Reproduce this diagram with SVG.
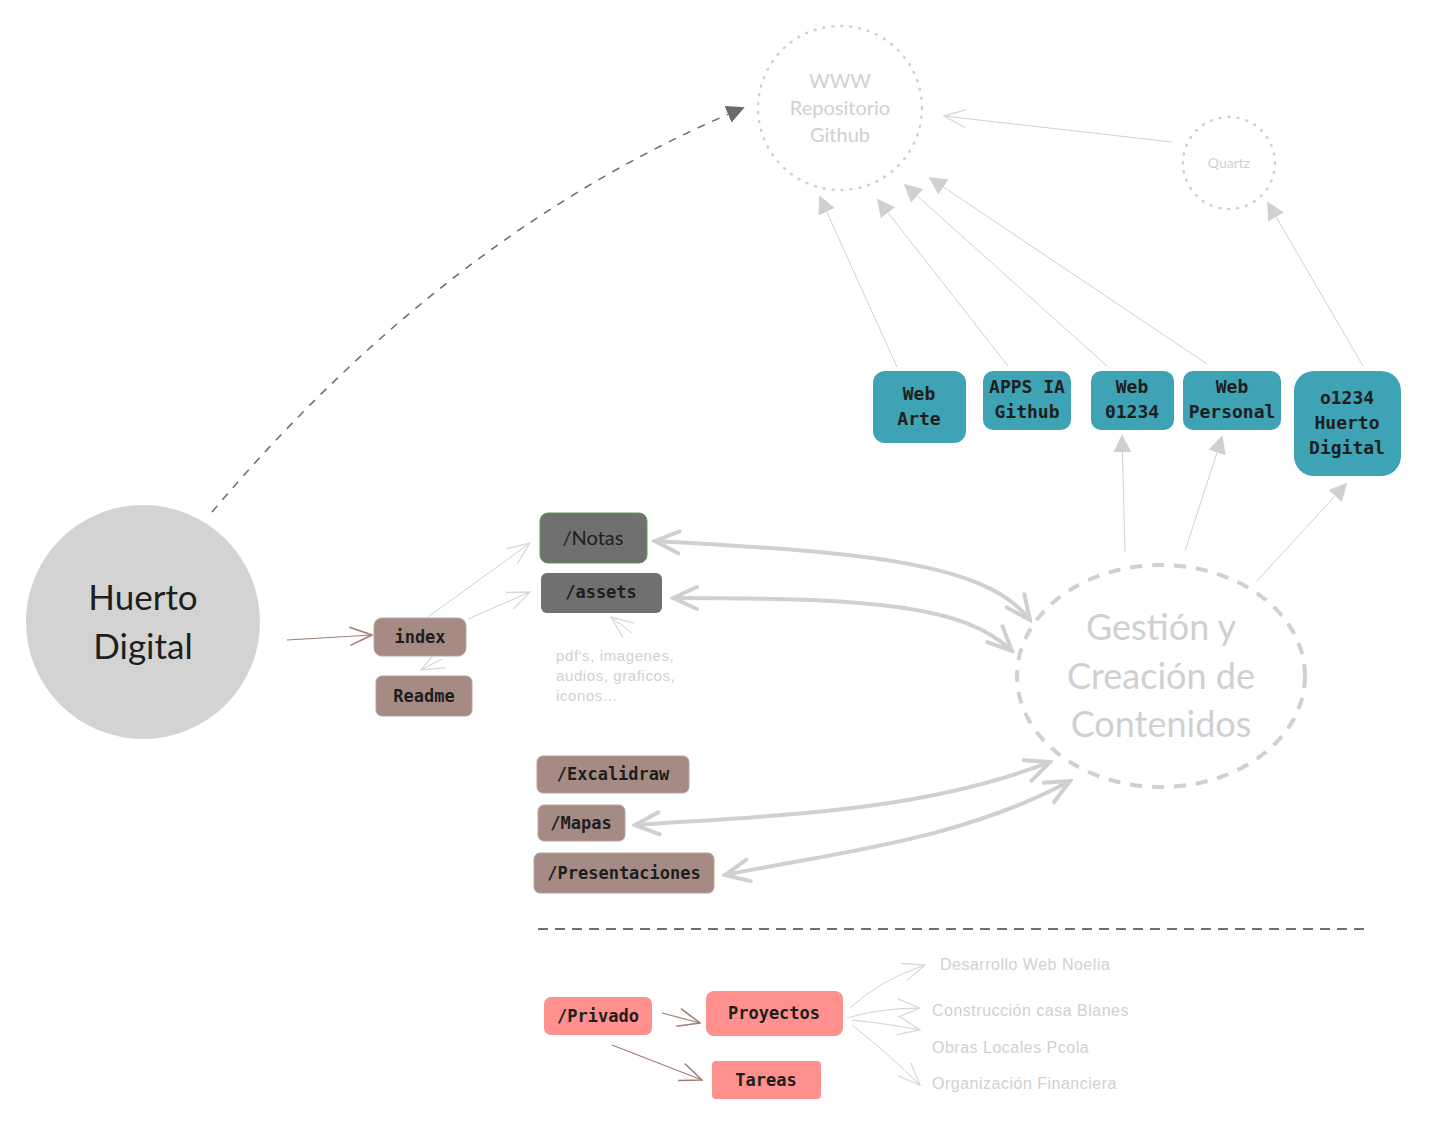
<svg xmlns="http://www.w3.org/2000/svg" width="1429" height="1127" viewBox="0 0 1429 1127">
<style>
.mono{font-family:"DejaVu Sans Mono","Liberation Mono",monospace;font-weight:bold;fill:#1e1e1e;text-anchor:middle}
.sans{font-family:"Lato","Open Sans",sans-serif;text-anchor:middle}
.hand{font-family:"Liberation Sans","DejaVu Sans",sans-serif;fill:#d0d0d0}
.teal{fill:#3ea3b5}
.brown{fill:#a58b83;stroke:#b9a39c;stroke-width:1}
.pink{fill:#ff908d}
.thin{fill:none;stroke:#d0d0d0;stroke-width:1}
.thick{fill:none;stroke:#d0d0d0;stroke-width:4;stroke-linecap:round}
.bro{fill:none;stroke:#a07d76;stroke-width:1.2}
</style>
<defs>
<marker id="fillgray" viewBox="0 0 10 10" refX="9" refY="5" markerWidth="18" markerHeight="18" markerUnits="userSpaceOnUse" orient="auto">
<path d="M0,0 L10,5 L0,10 z" fill="#d0d0d0"/></marker>
<marker id="filldark" viewBox="0 0 10 10" refX="9" refY="5" markerWidth="18" markerHeight="18" markerUnits="userSpaceOnUse" orient="auto">
<path d="M0,0 L10,5 L0,10 z" fill="#6a6a6a"/></marker>
<marker id="openthin" viewBox="0 0 20 20" refX="19" refY="10" markerWidth="26" markerHeight="26" markerUnits="userSpaceOnUse" orient="auto">
<path d="M2,3 L19,10 L2,17" fill="none" stroke="#d8d8d8" stroke-width="1"/></marker>
<marker id="openbrown" viewBox="0 0 20 20" refX="19" refY="10" markerWidth="26" markerHeight="26" markerUnits="userSpaceOnUse" orient="auto">
<path d="M2,3 L19,10 L2,17" fill="none" stroke="#a07d76" stroke-width="1.2"/></marker>
<marker id="openthick" viewBox="0 0 30 30" refX="27" refY="15" markerWidth="30" markerHeight="30" markerUnits="userSpaceOnUse" orient="auto">
<path d="M3,4 L27,15 L3,26" fill="none" stroke="#d0d0d0" stroke-width="4" stroke-linecap="round"/></marker>
<marker id="openthickstart" viewBox="0 0 30 30" refX="3" refY="15" markerWidth="30" markerHeight="30" markerUnits="userSpaceOnUse" orient="auto">
<path d="M27,4 L3,15 L27,26" fill="none" stroke="#d0d0d0" stroke-width="4" stroke-linecap="round"/></marker>
</defs>

<g id="connectors">
<path d="M212,512 Q450,230 743,108" fill="none" stroke="#6a6a6a" stroke-width="1.5" stroke-dasharray="8 8" marker-end="url(#filldark)"/>
<path class="thin" d="M1172,142 L944,116" marker-end="url(#openthin)"/>
<path class="thin" d="M897,367 L820,197" marker-end="url(#fillgray)"/>
<path class="thin" d="M1008,366 L878,200" marker-end="url(#fillgray)"/>
<path class="thin" d="M1107,366 L905,185" marker-end="url(#fillgray)"/>
<path class="thin" d="M1207,364 L930,178" marker-end="url(#fillgray)"/>
<path class="thin" d="M1363,366 L1268,203" marker-end="url(#fillgray)"/>
<path class="thin" d="M1125,552 L1122,436" marker-end="url(#fillgray)"/>
<path class="thin" d="M1185,551 L1222,437" marker-end="url(#fillgray)"/>
<path class="thin" d="M1257,581 L1346,484" marker-end="url(#fillgray)"/>
<path class="thick" d="M655,541 C850,552 985,560 1030,620" marker-start="url(#openthickstart)" marker-end="url(#openthick)"/>
<path class="thick" d="M673,598 C870,598 965,605 1012,651" marker-start="url(#openthickstart)" marker-end="url(#openthick)"/>
<path class="thick" d="M635,825 C780,815 920,812 1050,762" marker-start="url(#openthickstart)" marker-end="url(#openthick)"/>
<path class="thick" d="M725,875 C840,852 960,840 1070,781" marker-start="url(#openthickstart)" marker-end="url(#openthick)"/>
<path class="bro" d="M287,640 L372,635" marker-end="url(#openbrown)"/>
<path class="thin" d="M428,617 L530,543" marker-end="url(#openthin)" stroke="#e2e2e2"/>
<path class="thin" d="M468,619 L530,592" marker-end="url(#openthin)" stroke="#e2e2e2"/>
<path class="thin" d="M442,659 L421,670" marker-end="url(#openthin)" stroke="#e2e2e2"/>
<path class="thin" d="M632,633 L611,617" marker-end="url(#openthin)" stroke="#e2e2e2"/>
<path class="bro" d="M662,1013 L700,1023" marker-end="url(#openbrown)"/>
<path class="bro" d="M612,1045 L702,1080" marker-end="url(#openbrown)"/>
<path class="thin" d="M850,1008 Q880,980 925,965" marker-end="url(#openthin)" stroke="#e2e2e2"/>
<path class="thin" d="M847,1018 Q880,1008 920,1008" marker-end="url(#openthin)" stroke="#e2e2e2"/>
<path class="thin" d="M852,1020 Q890,1024 920,1030" marker-end="url(#openthin)" stroke="#e2e2e2"/>
<path class="thin" d="M852,1025 Q890,1055 920,1085" marker-end="url(#openthin)" stroke="#e2e2e2"/>
<line x1="538" y1="929" x2="1365" y2="929" stroke="#707070" stroke-width="2" stroke-dasharray="10 7"/>
</g>

<g id="huerto">
<circle cx="143" cy="622" r="117" fill="#d3d3d3"/>
<text class="sans" x="143" y="610" font-size="35" fill="#1e1e1e">Huerto</text>
<text class="sans" x="143" y="659" font-size="35" fill="#1e1e1e">Digital</text>
</g>

<g id="www">
<circle cx="840" cy="108" r="82" fill="none" stroke="#d0d0d0" stroke-width="2.5" stroke-dasharray="1 8" stroke-linecap="round"/>
<text class="sans" x="840" y="88" font-size="20" fill="#d0d0d0">WWW</text>
<text class="sans" x="840" y="115" font-size="20" fill="#d0d0d0">Repositorio</text>
<text class="sans" x="840" y="142" font-size="20" fill="#d0d0d0">Github</text>
</g>

<g id="quartz">
<circle cx="1229" cy="163" r="46" fill="none" stroke="#d0d0d0" stroke-width="2.5" stroke-dasharray="1 8" stroke-linecap="round"/>
<text class="sans" x="1229" y="168" font-size="14" fill="#d0d0d0">Quartz</text>
</g>

<g id="webarte"><rect class="teal" x="873" y="371" width="93" height="72" rx="12"/>
<text class="mono" x="919" y="400" font-size="18">Web</text><text class="mono" x="919" y="425" font-size="18">Arte</text></g>
<g id="appsia"><rect class="teal" x="983" y="371" width="88" height="59" rx="10"/>
<text class="mono" x="1027" y="393" font-size="18">APPS IA</text><text class="mono" x="1027" y="418" font-size="18">Github</text></g>
<g id="web01234"><rect class="teal" x="1091" y="371" width="83" height="59" rx="10"/>
<text class="mono" x="1132" y="393" font-size="18">Web</text><text class="mono" x="1132" y="418" font-size="18">01234</text></g>
<g id="webpersonal"><rect class="teal" x="1183" y="371" width="98" height="59" rx="10"/>
<text class="mono" x="1232" y="393" font-size="18">Web</text><text class="mono" x="1232" y="418" font-size="18">Personal</text></g>
<g id="o1234"><rect class="teal" x="1294" y="371" width="107" height="105" rx="20"/>
<text class="mono" x="1347" y="404" font-size="18">o1234</text><text class="mono" x="1347" y="429" font-size="18">Huerto</text><text class="mono" x="1347" y="454" font-size="18">Digital</text></g>

<g id="gestion">
<ellipse cx="1161" cy="676" rx="144" ry="111" fill="none" stroke="#d0d0d0" stroke-width="4" stroke-dasharray="12 10"/>
<text class="sans" x="1161" y="640" font-size="36" fill="#d0d0d0">Gestión y</text>
<text class="sans" x="1161" y="689" font-size="36" fill="#d0d0d0">Creación de</text>
<text class="sans" x="1161" y="737" font-size="36" fill="#d0d0d0">Contenidos</text>
</g>

<g id="notas"><rect x="540" y="513" width="107" height="50" rx="8" fill="#707070" stroke="#5a9a5a" stroke-width="1"/>
<text class="sans" x="593" y="545" font-size="20" fill="#1e1e1e">/Notas</text></g>
<g id="assets"><rect x="541" y="573" width="121" height="40" rx="6" fill="#707070"/>
<text class="mono" x="601" y="598" font-size="17">/assets</text></g>
<g id="pdf">
<text class="hand" x="556" y="661" font-size="15" letter-spacing="0.6">pdf's, imagenes,</text>
<text class="hand" x="556" y="681" font-size="15" letter-spacing="0.6">audios, graficos,</text>
<text class="hand" x="556" y="701" font-size="15" letter-spacing="0.6">iconos...</text>
</g>

<g id="index"><rect class="brown" x="374" y="618" width="92" height="38" rx="8"/>
<text class="mono" x="420" y="643" font-size="17">index</text></g>
<g id="readme"><rect class="brown" x="376" y="676" width="96" height="40" rx="6"/>
<text class="mono" x="424" y="702" font-size="17">Readme</text></g>

<g id="excalidraw"><rect class="brown" x="537" y="756" width="152" height="37" rx="6"/>
<text class="mono" x="613" y="780" font-size="17">/Excalidraw</text></g>
<g id="mapas"><rect class="brown" x="538" y="805" width="87" height="36" rx="6"/>
<text class="mono" x="581" y="829" font-size="17">/Mapas</text></g>
<g id="presentaciones"><rect class="brown" x="534" y="853" width="180" height="40" rx="6"/>
<text class="mono" x="624" y="879" font-size="17">/Presentaciones</text></g>

<g id="privado"><rect class="pink" x="544" y="997" width="108" height="38" rx="7"/>
<text class="mono" x="598" y="1022" font-size="17">/Privado</text></g>
<g id="proyectos"><rect class="pink" x="706" y="991" width="137" height="45" rx="8"/>
<text class="mono" x="774" y="1019" font-size="17">Proyectos</text></g>
<g id="tareas"><rect class="pink" x="712" y="1061" width="109" height="38" rx="4"/>
<text class="mono" x="766" y="1086" font-size="17">Tareas</text></g>

<g id="labels">
<text class="hand" x="940" y="970" font-size="16" letter-spacing="0.5">Desarrollo Web Noelia</text>
<text class="hand" x="932" y="1016" font-size="16" letter-spacing="0.5">Construcción casa Blanes</text>
<text class="hand" x="932" y="1053" font-size="16" letter-spacing="0.5">Obras Locales Pcola</text>
<text class="hand" x="932" y="1089" font-size="16" letter-spacing="0.5">Organización Financiera</text>
</g>
</svg>
